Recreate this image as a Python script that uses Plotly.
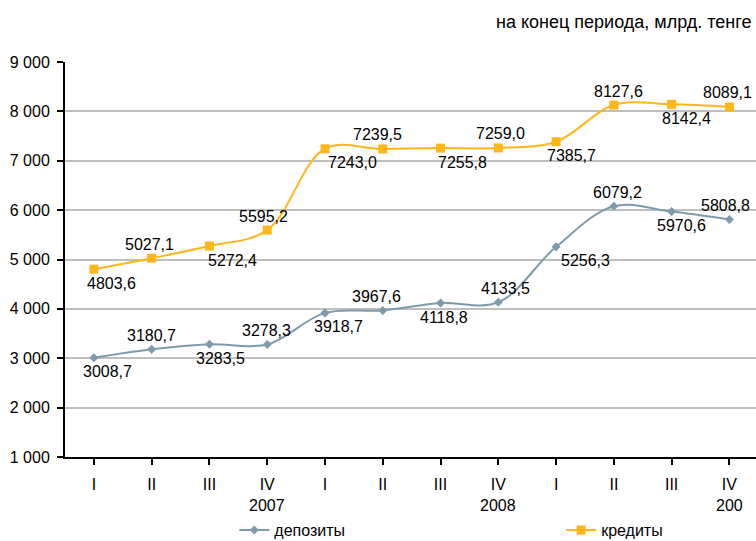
import plotly.graph_objects as go

quarters = ["I", "II", "III", "IV", "I", "II", "III", "IV", "I", "II", "III", "IV"]
years = ["2007", "2008", "200"]
year_pos = [3, 7, 11]

deposits = [3008.7, 3180.7, 3283.5, 3278.3, 3918.7, 3967.6, 4118.8, 4133.5,
            5256.3, 6079.2, 5970.6, 5808.8]
credits = [4803.6, 5027.1, 5272.4, 5595.2, 7243.0, 7239.5, 7255.8, 7259.0,
           7385.7, 8127.6, 8142.4, 8089.1]

# label placement: +1 above the point, -1 below; horizontal nudge in px
dep_side = [-1, 1, -1, 1, -1, 1, -1, 1, -1, 1, -1, 1]
dep_dx = [14, 0, 11, -1, 14, -6, 3, 7, 29, 4, 10, -4]
cred_side = [-1, 1, -1, 1, -1, 1, -1, 1, -1, 1, -1, 1]
cred_dx = [18, -2, 23, -4, 28, -5, 22, 2, 15, 5, 15, -2]

x = list(range(len(quarters)))
FONT = "Liberation Sans, Arial, sans-serif"
DEP_COLOR = "#7C9CAD"
CRED_COLOR = "#FFB619"

fig = go.Figure()
fig.add_trace(go.Scatter(
    x=x, y=deposits, name="депозиты", mode="lines+markers",
    line=dict(color=DEP_COLOR, width=2, shape="spline", smoothing=1),
    marker=dict(symbol="diamond", size=7, color=DEP_COLOR),
    legend="legend",
))
fig.add_trace(go.Scatter(
    x=x, y=credits, name="кредиты", mode="lines+markers",
    line=dict(color=CRED_COLOR, width=2, shape="spline", smoothing=1),
    marker=dict(symbol="square", size=9, color=CRED_COLOR),
    legend="legend2",
))


def fmt(v):
    return f"{v:.1f}".replace(".", ",")


annotations = [dict(
    text="на конец периода, млрд. тенге", xref="paper", yref="paper",
    x=0.995, y=1.0, yshift=40, xanchor="right", yanchor="middle",
    showarrow=False, font=dict(family=FONT, size=18, color="#000000"),
)]
for series, sides, dxs in ((deposits, dep_side, dep_dx),
                           (credits, cred_side, cred_dx)):
    for xi, v, s, dx in zip(x, series, sides, dxs):
        annotations.append(dict(
            text=fmt(v), x=xi, y=v, xref="x", yref="y",
            xanchor="center", yanchor="middle", showarrow=False,
            xshift=dx, yshift=14 * s,
            font=dict(family=FONT, size=16, color="#000000"),
        ))
for yr, pos in zip(years, year_pos):
    annotations.append(dict(
        text=yr, xref="x", yref="paper", x=pos, y=0, yshift=-48,
        xanchor="center", yanchor="middle", showarrow=False,
        font=dict(family=FONT, size=16, color="#000000"),
    ))

legend_style = dict(orientation="h", xanchor="left", yanchor="middle",
                    y=-0.185, bgcolor="rgba(0,0,0,0)",
                    font=dict(family=FONT, size=16, color="#000000"))

fig.update_layout(
    width=756, height=541,
    margin=dict(l=65, r=0, t=62, b=84, autoexpand=False),
    paper_bgcolor="white", plot_bgcolor="white",
    font=dict(family=FONT, size=16, color="#000000"),
    showlegend=True,
    legend=dict(x=0.245, **legend_style),
    legend2=dict(x=0.718, **legend_style),
    annotations=annotations,
)
fig.update_xaxes(
    tickmode="array", tickvals=x, ticktext=quarters,
    range=[-0.5, 11.46], showgrid=False, zeroline=False,
    showline=True, linecolor="#000000", linewidth=2,
    ticks="outside", ticklen=6, tickcolor="#000000", tickwidth=2,
    ticklabelstandoff=6,
)
fig.update_yaxes(
    range=[1000, 9000], dtick=1000, tickformat=",.0f",
    separatethousands=True,
    showgrid=True, gridcolor="#BFBFBF", gridwidth=2, zeroline=False,
    showline=True, linecolor="#000000", linewidth=2,
    ticks="outside", ticklen=6, tickcolor="#000000", tickwidth=2,
    ticklabelstandoff=4,
)
fig.update_layout(separators=", ")

fig.write_html("out.html")
